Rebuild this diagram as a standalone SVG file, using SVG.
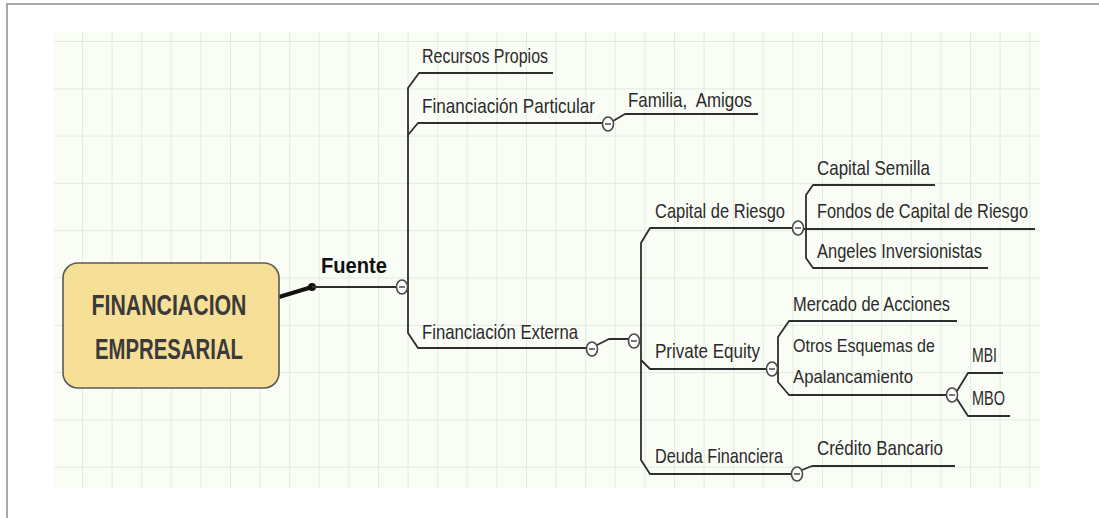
<svg xmlns="http://www.w3.org/2000/svg" width="1099" height="518" viewBox="0 0 1099 518">
<defs>
<pattern id="grid" patternUnits="userSpaceOnUse" x="82" y="41" width="29.6" height="47.3">
<path d="M0,0 V47.3 M0,0 H29.6" fill="none" stroke="#d6e7d6" stroke-width="1.4"/>
</pattern>
<style>
.t{font-family:"Liberation Sans",Arial,sans-serif;font-size:21px;fill:#2b2b2b}
.c{fill:none;stroke:#2e2e2e;stroke-width:1.8;stroke-linejoin:round}
.btn{fill:#ffffff;stroke:#4a4a4a;stroke-width:1.6}
.minus{stroke:#555;stroke-width:1.6}
</style>
</defs>
<rect x="0" y="0" width="1099" height="518" fill="#ffffff"/>
<path d="M7,518 V4 H1099" fill="none" stroke="#a8a8a8" stroke-width="2"/>
<rect x="54" y="32" width="986" height="456" fill="#fafcf6"/>
<rect x="54" y="32" width="986" height="456" fill="url(#grid)"/>

<g id="connectors">
<path d="M279,297 L312,287" stroke="#111" stroke-width="4" fill="none"/>
<circle cx="312" cy="287" r="4" fill="#111"/>
<path class="c" d="M312,287 H396"/>
<path class="c" d="M553,73 H419 L408,88 V333 L418,348 H586"/>
<path class="c" d="M408,135 L418,123 H602"/>
<path class="c" d="M613,121 L625,114 H758"/>
<path class="c" d="M597,345 L609,339 H628"/>
<path class="c" d="M792,228 H650 L641,243 V460 L650,474 H791"/>
<path class="c" d="M641,360 L650,369 H766"/>
<path class="c" d="M935,185 H813 L806,195 V258 L813,268 H988"/>
<path class="c" d="M804,229 H1035"/>
<path class="c" d="M957,321 H789 L778,337 V382 L789,395 H946"/>
<path class="c" d="M957,391 L968,373 H1003"/>
<path class="c" d="M957,399 L968,416 H1010"/>
<path class="c" d="M802,470 L812,466 H955"/>
</g>

<g id="buttons">
<g><ellipse class="btn" cx="402" cy="287" rx="5.5" ry="7"/><line class="minus" x1="399" y1="287" x2="405" y2="287"/></g>
<g><ellipse class="btn" cx="608" cy="124" rx="5.5" ry="7"/><line class="minus" x1="605" y1="124" x2="611" y2="124"/></g>
<g><ellipse class="btn" cx="592" cy="349" rx="5.5" ry="7"/><line class="minus" x1="589" y1="349" x2="595" y2="349"/></g>
<g><ellipse class="btn" cx="634" cy="341" rx="5.5" ry="7"/><line class="minus" x1="631" y1="341" x2="637" y2="341"/></g>
<g><ellipse class="btn" cx="798" cy="228" rx="5.5" ry="7"/><line class="minus" x1="795" y1="228" x2="801" y2="228"/></g>
<g><ellipse class="btn" cx="772" cy="369" rx="5.5" ry="7"/><line class="minus" x1="769" y1="369" x2="775" y2="369"/></g>
<g><ellipse class="btn" cx="952" cy="395" rx="5.5" ry="7"/><line class="minus" x1="949" y1="395" x2="955" y2="395"/></g>
<g><ellipse class="btn" cx="797" cy="474" rx="5.5" ry="7"/><line class="minus" x1="794" y1="474" x2="800" y2="474"/></g>
</g>

<g id="central">
<rect x="63" y="263" width="216" height="125" rx="15" fill="#f6df96" stroke="#5a5a5a" stroke-width="1.6"/>
<text x="169" y="315" text-anchor="middle" font-family="Liberation Sans,Arial,sans-serif" font-size="30" font-weight="bold" fill="#3a3a3a" textLength="155" lengthAdjust="spacingAndGlyphs">FINANCIACION</text>
<text x="169" y="359" text-anchor="middle" font-family="Liberation Sans,Arial,sans-serif" font-size="30" font-weight="bold" fill="#3a3a3a" textLength="148" lengthAdjust="spacingAndGlyphs">EMPRESARIAL</text>
</g>

<g id="fuente"><text x="321" y="273" font-family="Liberation Sans,Arial,sans-serif" font-size="22" font-weight="bold" fill="#111" textLength="66" lengthAdjust="spacingAndGlyphs">Fuente</text></g>

<g id="recursos-propios"><text class="t" x="422" y="63" textLength="126" lengthAdjust="spacingAndGlyphs">Recursos Propios</text></g>
<g id="financiacion-particular"><text class="t" x="422" y="113" textLength="173" lengthAdjust="spacingAndGlyphs">Financiación Particular</text></g>
<g id="familia-amigos"><text class="t" x="628" y="107" textLength="124" lengthAdjust="spacingAndGlyphs" xml:space="preserve">Familia,  Amigos</text></g>
<g id="financiacion-externa"><text class="t" x="422" y="339" textLength="156" lengthAdjust="spacingAndGlyphs">Financiación Externa</text></g>
<g id="capital-riesgo"><text class="t" x="655" y="218" textLength="130" lengthAdjust="spacingAndGlyphs">Capital de Riesgo</text></g>
<g id="capital-semilla"><text class="t" x="817" y="175" textLength="113" lengthAdjust="spacingAndGlyphs">Capital Semilla</text></g>
<g id="fondos"><text class="t" x="817" y="218" textLength="211" lengthAdjust="spacingAndGlyphs">Fondos de Capital de Riesgo</text></g>
<g id="angeles"><text class="t" x="817" y="258" textLength="165" lengthAdjust="spacingAndGlyphs">Angeles Inversionistas</text></g>
<g id="private-equity"><text class="t" x="655" y="358" textLength="105" lengthAdjust="spacingAndGlyphs">Private Equity</text></g>
<g id="mercado-acciones"><text class="t" x="793" y="311" textLength="157" lengthAdjust="spacingAndGlyphs">Mercado de Acciones</text></g>
<g id="otros-esquemas"><text class="t" x="793" y="352" font-size="18" style="font-size:18px" textLength="142" lengthAdjust="spacingAndGlyphs">Otros Esquemas de</text><text class="t" x="793" y="383" style="font-size:18.5px" textLength="120" lengthAdjust="spacingAndGlyphs">Apalancamiento</text></g>
<g id="mbi"><text class="t" x="972" y="362" textLength="25" lengthAdjust="spacingAndGlyphs">MBI</text></g>
<g id="mbo"><text class="t" x="972" y="405" textLength="33" lengthAdjust="spacingAndGlyphs">MBO</text></g>
<g id="deuda-financiera"><text class="t" x="655" y="463" textLength="128" lengthAdjust="spacingAndGlyphs">Deuda Financiera</text></g>
<g id="credito-bancario"><text class="t" x="817" y="455" textLength="126" lengthAdjust="spacingAndGlyphs">Crédito Bancario</text></g>
</svg>
